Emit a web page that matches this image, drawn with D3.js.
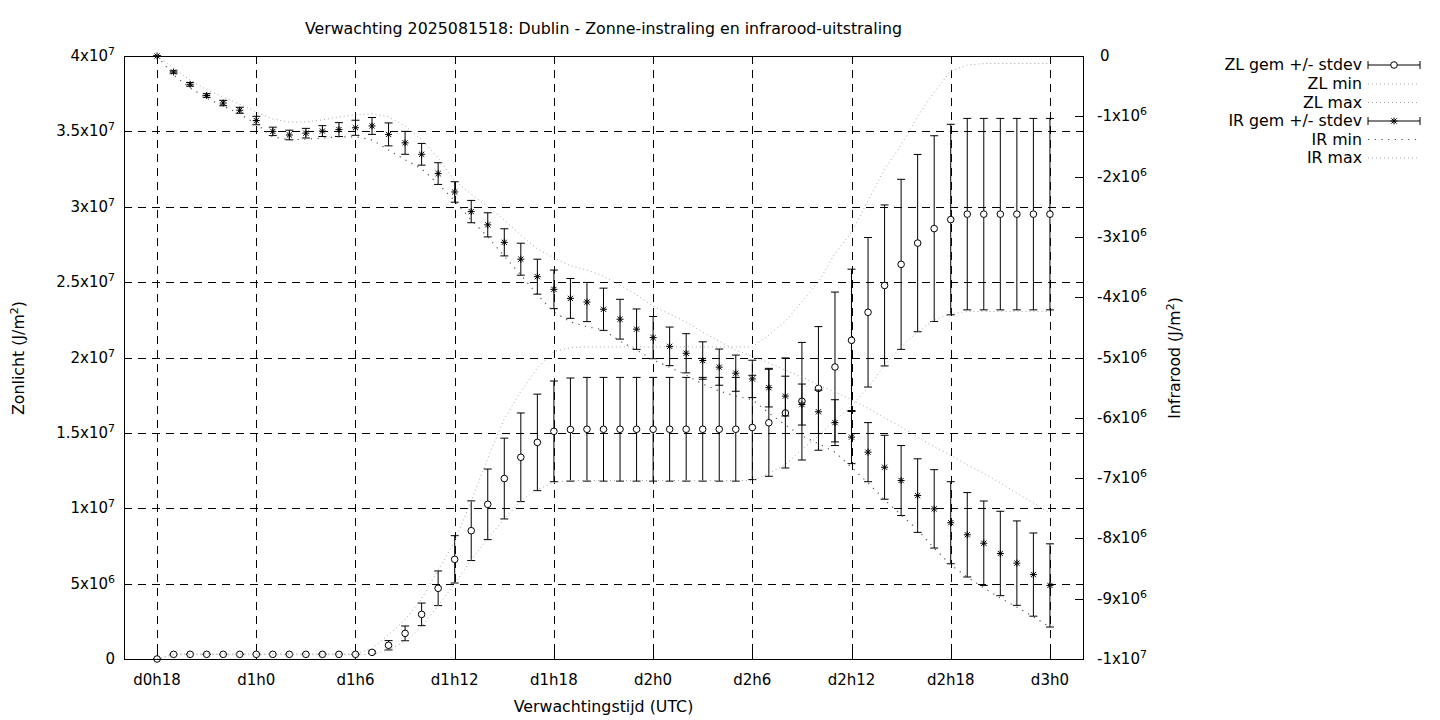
<!DOCTYPE html>
<html><head><meta charset="utf-8">
<script src="https://cdn.jsdelivr.net/npm/d3@7/dist/d3.min.js"></script>
<style>
body{margin:0;background:#fff}
text{font-family:"DejaVu Sans",sans-serif;font-size:15px;fill:#000}
text.big{font-size:15.8px}
</style>
</head><body>
<svg id="chart" width="1440" height="720"></svg>
<script>
// ---------------- data (values in millions of J/m2) ----------------
const hours = [18,19,20,21,22,23,24,25,26,27,28,29,30,31,32,33,34,35,36,37,38,39,40,41,42,43,44,45,
  46,47,48,49,50,51,52,53,54,55,56,57,58,59,60,61,62,63,64,65,66,67,68,69,70,71,72];
const xTickHours = [18,24,30,36,42,48,54,60,66,72];
const xTickLabels = ["d0h18","d1h0","d1h6","d1h12","d1h18","d2h0","d2h6","d2h12","d2h18","d3h0"];
const leftTicks = [0,5e6,1e7,1.5e7,2e7,2.5e7,3e7,3.5e7,4e7];
const rightTicks = [0,-1e6,-2e6,-3e6,-4e6,-5e6,-6e6,-7e6,-8e6,-9e6,-1e7];

const zlMean = [0,0.31,0.31,0.31,0.31,0.31,0.31,0.31,0.31,0.31,0.31,0.31,0.31,0.44,0.91,1.70,2.96,4.69,6.61,8.51,
  10.26,11.97,13.38,14.37,15.10,15.22,15.24,15.24,15.24,15.24,15.24,15.24,15.24,15.24,15.24,15.24,15.36,15.67,16.32,17.10,
  17.95,19.37,21.14,23.00,24.78,26.18,27.59,28.55,29.15,29.51,29.51,29.51,29.51,29.51,29.51];
const zlStdev = [0,0.02,0.02,0.02,0.02,0.02,0.02,0.02,0.02,0.02,0.02,0.02,0.02,0.08,0.31,0.49,0.75,1.15,1.57,1.98,
  2.34,2.68,2.94,3.20,3.34,3.42,3.44,3.44,3.44,3.44,3.44,3.44,3.44,3.44,3.44,3.44,3.46,3.55,3.65,3.90,
  4.10,4.97,4.72,4.96,5.34,5.64,5.88,6.16,6.32,6.35,6.35,6.35,6.35,6.35,6.35];
const zlMin = [0,0.28,0.28,0.28,0.28,0.28,0.28,0.28,0.28,0.28,0.28,0.28,0.28,0.31,0.60,1.15,2.14,3.54,5.00,6.57,
  8.00,9.30,10.48,11.25,11.70,11.84,11.84,11.84,11.84,11.84,11.84,11.84,11.84,11.84,11.84,11.84,11.84,12.30,12.90,13.90,
  14.80,15.85,16.80,18.00,19.50,20.70,21.70,22.50,22.90,23.05,23.05,23.05,23.05,23.05,23.05];
const zlMax = [0,0.34,0.34,0.34,0.34,0.34,0.34,0.34,0.34,0.34,0.34,0.34,0.34,0.70,1.60,2.60,4.00,5.90,7.80,10.48,
  13.33,15.93,17.75,19.30,20.40,20.65,20.70,20.70,20.70,20.70,20.70,20.70,20.70,20.70,20.70,20.70,20.70,21.50,22.40,23.70,
  25.00,26.90,28.30,30.40,32.50,34.10,36.00,37.60,39.00,39.40,39.50,39.50,39.50,39.50,39.50];

const irMean = [0,-0.265,-0.47,-0.655,-0.78,-0.90,-1.07,-1.25,-1.31,-1.28,-1.245,-1.22,-1.19,-1.16,-1.30,-1.44,-1.63,-1.95,-2.255,-2.58,
  -2.80,-3.09,-3.37,-3.66,-3.87,-4.02,-4.08,-4.20,-4.365,-4.53,-4.67,-4.815,-4.93,-5.05,-5.16,-5.26,-5.355,-5.50,-5.64,-5.78,
  -5.90,-6.08,-6.32,-6.57,-6.82,-7.04,-7.29,-7.51,-7.74,-7.94,-8.08,-8.25,-8.41,-8.60,-8.78];
const irStdev = [0,0.02,0.03,0.03,0.045,0.05,0.07,0.07,0.08,0.08,0.09,0.115,0.125,0.14,0.19,0.19,0.18,0.18,0.17,0.185,
  0.20,0.225,0.265,0.29,0.32,0.33,0.325,0.35,0.33,0.335,0.35,0.32,0.325,0.31,0.30,0.30,0.31,0.32,0.33,0.34,
  0.36,0.38,0.44,0.49,0.53,0.58,0.61,0.65,0.68,0.70,0.70,0.70,0.70,0.69,0.69];
const irMin = [0,-0.315,-0.53,-0.70,-0.83,-0.96,-1.13,-1.34,-1.39,-1.38,-1.36,-1.34,-1.34,-1.39,-1.56,-1.72,-1.87,-2.12,-2.40,-2.72,
  -3.00,-3.32,-3.63,-3.96,-4.245,-4.41,-4.49,-4.54,-4.73,-4.875,-5.04,-5.16,-5.29,-5.44,-5.555,-5.64,-5.70,-5.92,-6.12,-6.30,
  -6.43,-6.57,-6.82,-7.08,-7.36,-7.61,-7.86,-8.16,-8.44,-8.64,-8.82,-8.99,-9.14,-9.30,-9.47];
const irMax = [0,-0.20,-0.40,-0.56,-0.68,-0.80,-0.93,-1.045,-1.095,-1.095,-1.06,-1.01,-0.975,-0.96,-1.01,-1.16,-1.39,-1.69,-2.07,-2.29,
  -2.50,-2.72,-2.97,-3.20,-3.35,-3.48,-3.55,-3.65,-3.80,-3.96,-4.15,-4.28,-4.41,-4.58,-4.73,-4.88,-4.975,-5.09,-5.21,-5.32,
  -5.46,-5.57,-5.70,-5.84,-6.00,-6.15,-6.32,-6.48,-6.62,-6.78,-6.92,-7.08,-7.25,-7.41,-7.58];

const title = "Verwachting 2025081518: Dublin - Zonne-instraling en infrarood-uitstraling";
const legendLabels = ["ZL gem +/- stdev","ZL min","ZL max","IR gem +/- stdev","IR min","IR max"];
const UNIT = 1e6;

// ---------------- drawing ----------------
const svg = d3.select("#chart");
const L = 124, R = 1083, T = 56, B = 659;
const x = d3.scaleLinear().domain([16, 74]).range([L, R]);
const yL = d3.scaleLinear().domain([0, 4e7]).range([B, T]);
const yR = d3.scaleLinear().domain([-1e7, 0]).range([B, T]);

const light = "#a8a8a8";
const fineDot = "1,3";

function sci(v){
  if (v === 0) return {m:"0", e:null};
  const a = Math.abs(v);
  const e = Math.floor(Math.log10(a) + 1e-9);
  const m = +(a / Math.pow(10, e)).toFixed(2);
  return {m:(v < 0 ? "-" : "") + m + "x10", e:String(e)};
}
function sciText(sel, v){
  const s = sci(v);
  sel.append("tspan").text(s.m);
  if (s.e !== null) sel.append("tspan").attr("dy", -6).style("font-size", "11px").text(s.e);
}

// grid
const grid = svg.append("g").attr("stroke", "#000").attr("stroke-width", 1)
  .attr("stroke-dasharray", "8,6").attr("shape-rendering", "crispEdges");
xTickHours.forEach(h => grid.append("line").attr("x1", Math.round(x(h)) + 0.5).attr("x2", Math.round(x(h)) + 0.5)
  .attr("y1", T).attr("y2", B));
leftTicks.slice(1, -1).forEach(v => grid.append("line").attr("x1", L).attr("x2", R)
  .attr("y1", Math.round(yL(v)) + 0.5).attr("y2", Math.round(yL(v)) + 0.5));

// ticks
const ticks = svg.append("g").attr("stroke", "#000").attr("stroke-width", 1).attr("shape-rendering", "crispEdges");
leftTicks.forEach(v => {
  const yy = Math.round(yL(v)) + 0.5;
  ticks.append("line").attr("x1", L).attr("x2", L + 8).attr("y1", yy).attr("y2", yy);
});
rightTicks.forEach(v => {
  const yy = Math.round(yR(v)) + 0.5;
  ticks.append("line").attr("x1", R - 8).attr("x2", R).attr("y1", yy).attr("y2", yy);
});
xTickHours.forEach(h => {
  const xx = Math.round(x(h)) + 0.5;
  ticks.append("line").attr("x1", xx).attr("x2", xx).attr("y1", B).attr("y2", B - 8);
  ticks.append("line").attr("x1", xx).attr("x2", xx).attr("y1", T).attr("y2", T + 8);
});

// tick labels
leftTicks.forEach(v => {
  const t = svg.append("text").attr("x", 115).attr("y", yL(v) + 5).attr("text-anchor", "end");
  sciText(t, v);
});
rightTicks.forEach(v => {
  const t = svg.append("text").attr("x", 1097).attr("y", yR(v) + 5).attr("text-anchor", "start");
  if (v === 0) t.attr("x", 1100);
  sciText(t, v);
});
xTickHours.forEach((h, i) => {
  svg.append("text").attr("x", x(h)).attr("y", 685).attr("text-anchor", "middle").text(xTickLabels[i]);
});

// titles
svg.append("text").attr("class", "big").attr("x", (L + R) / 2).attr("y", 34).attr("text-anchor", "middle").text(title);
svg.append("text").attr("class", "big").attr("x", (L + R) / 2).attr("y", 712).attr("text-anchor", "middle").text("Verwachtingstijd (UTC)");
{
  const t = svg.append("text").attr("class", "big").attr("transform", "translate(24,358) rotate(-90)").attr("text-anchor", "middle");
  t.append("tspan").text("Zonlicht (J/m");
  t.append("tspan").attr("dy", -6).style("font-size", "11px").text("2");
  t.append("tspan").attr("dy", 6).text(")");
}
{
  const t = svg.append("text").attr("class", "big").attr("transform", "translate(1180,358) rotate(-90)").attr("text-anchor", "middle");
  t.append("tspan").text("Infrarood (J/m");
  t.append("tspan").attr("dy", -6).style("font-size", "11px").text("2");
  t.append("tspan").attr("dy", 6).text(")");
}

// series helpers
const idx = hours.map((h, i) => i);
function errorBars(g, mean, sd, y){
  idx.forEach(i => {
    const xx = x(hours[i]);
    const y1 = y((mean[i] - sd[i]) * UNIT), y2 = y((mean[i] + sd[i]) * UNIT);
    g.append("line").attr("x1", xx).attr("x2", xx).attr("y1", y1).attr("y2", y2);
    g.append("line").attr("x1", xx - 4).attr("x2", xx + 4).attr("y1", y1).attr("y2", y1);
    g.append("line").attr("x1", xx - 4).attr("x2", xx + 4).attr("y1", y2).attr("y2", y2);
  });
}
function dotted(arr, y, color, dash, w){
  svg.append("path").attr("fill", "none").attr("stroke", color).attr("stroke-width", w)
    .attr("stroke-dasharray", dash)
    .attr("d", d3.line().x((d, i) => x(hours[i])).y(d => y(d * UNIT))(arr));
}
const starPath = "M-3.5,0H3.5M0,-3.5V3.5M-2.6,-2.6L2.6,2.6M-2.6,2.6L2.6,-2.6";

// ZL
const gZL = svg.append("g").attr("stroke", "#000").attr("stroke-width", 1);
errorBars(gZL, zlMean, zlStdev, yL);
idx.forEach(i => gZL.append("circle").attr("cx", x(hours[i])).attr("cy", yL(zlMean[i] * UNIT))
  .attr("r", 3.3).attr("fill", "#fff"));
dotted(zlMin, yL, light, fineDot, 1);
dotted(zlMax, yL, light, fineDot, 1);

// IR
const gIR = svg.append("g").attr("stroke", "#000").attr("stroke-width", 1);
errorBars(gIR, irMean, irStdev, yR);
idx.forEach(i => gIR.append("path").attr("transform", `translate(${x(hours[i])},${yR(irMean[i] * UNIT)})`)
  .attr("d", starPath).attr("fill", "none"));
dotted(irMin, yR, "#555", "1.2,5.5", 1.2);
dotted(irMax, yR, light, fineDot, 1);

// border
svg.append("rect").attr("x", L + 0.5).attr("y", T + 0.5).attr("width", R - L).attr("height", B - T)
  .attr("fill", "none").attr("stroke", "#000").attr("stroke-width", 1).attr("shape-rendering", "crispEdges");

// legend
const legY = [65, 84, 102.5, 121, 139.5, 158];
const lx1 = 1368, lx2 = 1420;
legendLabels.forEach((lab, i) => {
  const yy = legY[i];
  svg.append("text").attr("class", "big").attr("x", 1362).attr("y", yy + 5).attr("text-anchor", "end").text(lab);
  const g = svg.append("g").attr("stroke", "#000").attr("stroke-width", 1);
  if (i === 0 || i === 3) {
    g.append("line").attr("x1", lx1).attr("x2", lx2).attr("y1", yy).attr("y2", yy);
    g.append("line").attr("x1", lx1).attr("x2", lx1).attr("y1", yy - 4).attr("y2", yy + 4);
    g.append("line").attr("x1", lx2).attr("x2", lx2).attr("y1", yy - 4).attr("y2", yy + 4);
    if (i === 0) g.append("circle").attr("cx", (lx1 + lx2) / 2).attr("cy", yy).attr("r", 3.3).attr("fill", "#fff");
    else g.append("path").attr("transform", `translate(${(lx1 + lx2) / 2},${yy})`).attr("d", starPath).attr("fill", "none");
  } else {
    const isIRmin = i === 4;
    svg.append("line").attr("x1", lx1).attr("x2", lx2).attr("y1", yy).attr("y2", yy)
      .attr("stroke", isIRmin ? "#555" : light).attr("stroke-width", isIRmin ? 1.2 : 1)
      .attr("stroke-dasharray", isIRmin ? "1.2,5.5" : fineDot);
  }
});
</script>
</body></html>
